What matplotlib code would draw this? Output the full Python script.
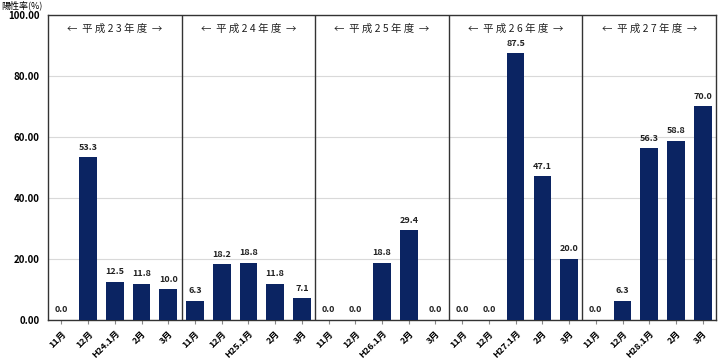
import numpy as np
import matplotlib
matplotlib.use('Agg')
import matplotlib.pyplot as plt

plt.rcParams['font.family'] = ['Noto Sans CJK JP', 'DejaVu Sans']

# Data
months = ['11月', '12月', 'H24.1月', '2月', '3月',
          '11月', '12月', 'H25.1月', '2月', '3月',
          '11月', '12月', 'H26.1月', '2月', '3月',
          '11月', '12月', 'H27.1月', '2月', '3月',
          '11月', '12月', 'H28.1月', '2月', '3月']
rates = [0.0, 53.3, 12.5, 11.8, 10.0,
         6.3, 18.2, 18.8, 11.8, 7.1,
         0.0, 0.0, 18.8, 29.4, 0.0,
         0.0, 0.0, 87.5, 47.1, 20.0,
         0.0, 6.3, 56.3, 58.8, 70.0]
years = ['←  平 成 2 3 年 度  →', '←  平 成 2 4 年 度  →', '←  平 成 2 5 年 度  →',
         '←  平 成 2 6 年 度  →', '←  平 成 2 7 年 度  →']
bar_color = '#0b2462'

fig = plt.figure(figsize=(7.23, 3.64), dpi=100)
ax = fig.add_axes([0.0664, 0.121, 0.924, 0.838])

x = np.arange(len(rates))
ax.bar(x, rates, width=0.66, color=bar_color, zorder=3)

for xi, v in zip(x, rates):
    ax.text(xi, v + 1.8, f'{v:.1f}', ha='center', va='bottom',
            fontsize=6.5, fontweight='bold', color='#222222', zorder=4)

ax.set_xlim(-0.5, len(rates) - 0.5)
ax.set_ylim(0, 100)
ax.set_yticks(np.arange(0, 101, 20))
ax.set_yticklabels([f'{t:.2f}' for t in np.arange(0, 101, 20)],
                   fontsize=7, fontweight='bold')
ax.yaxis.grid(True, color='#d9d9d9', linewidth=0.8, zorder=0)
ax.tick_params(axis='y', length=0, pad=6)

ax.set_xticks(x)
ax.set_xticklabels(months, rotation=45, ha='right', rotation_mode='anchor',
                   fontsize=6.5, fontweight='bold')
ax.tick_params(axis='x', length=3, color='#888888')

for i in range(1, len(years)):
    ax.axvline(i * 5 - 0.5, color='#333333', linewidth=1.0, zorder=2)
for i, label in enumerate(years):
    ax.text(i * 5 + 2, 95.5, label, ha='center', va='center', fontsize=7.5,
            color='#222222')

for s in ax.spines.values():
    s.set_color('#333333')
    s.set_linewidth(1.0)

fig.text(0.002, 0.999, '陽性率(%)', ha='left', va='top', fontsize=6.5)

fig.savefig('out.png', dpi=100)
